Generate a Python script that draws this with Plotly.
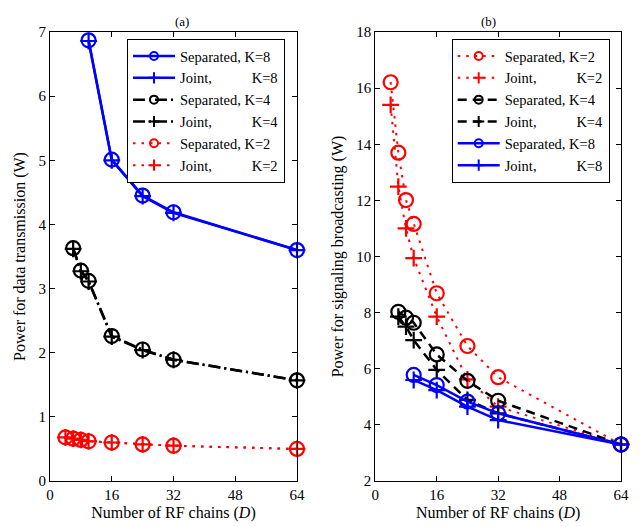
import plotly.graph_objects as go

# ---------------- data ----------------
D_K2 = [4, 6, 8, 10, 16, 24, 32, 64]
D_K4 = [6, 8, 10, 16, 24, 32, 64]
D_K8 = [10, 16, 24, 32, 64]

# (a) Power for data transmission (W)
a_sep_K8 = [6.87, 5.01, 4.45, 4.19, 3.60]
a_joint_K8 = [6.86, 5.00, 4.44, 4.18, 3.60]
a_sep_K4 = [3.63, 3.28, 3.12, 2.26, 2.05, 1.89, 1.57]
a_joint_K4 = [3.62, 3.27, 3.11, 2.25, 2.04, 1.89, 1.57]
a_sep_K2 = [0.68, 0.66, 0.64, 0.62, 0.60, 0.57, 0.55, 0.50]
a_joint_K2 = [0.68, 0.66, 0.64, 0.62, 0.60, 0.57, 0.55, 0.50]

# (b) Power for signaling broadcasting (W)
b_sep_K2 = [16.21, 13.70, 12.01, 11.16, 8.69, 6.81, 5.70, 3.30]
b_joint_K2 = [15.40, 12.49, 11.00, 9.94, 7.86, 5.62, 4.65, 3.30]
b_sep_K4 = [8.03, 7.82, 7.64, 6.51, 5.57, 4.86, 3.30]
b_joint_K4 = [7.86, 7.50, 7.02, 5.96, 4.89, 4.41, 3.30]
b_sep_K8 = [5.78, 5.42, 4.83, 4.41, 3.30]
b_joint_K8 = [5.60, 5.24, 4.65, 4.17, 3.30]

x_ticks = [0, 16, 32, 48, 64]
a_yticks = [0, 1, 2, 3, 4, 5, 6, 7]
b_yticks = [2, 4, 6, 8, 10, 12, 14, 16, 18]

FONT = "Liberation Serif"
NB = "\u00a0"
SEP = "Separated, "
JNT = "Joint," + NB * 11

BLUE = "#0000ff"
RED = "#ff0000"
BLACK = "#000000"

styles = {
    "K8": dict(color=BLUE, width=2.5, dash="solid"),
    "K4a": dict(color=BLACK, width=2.5, dash="12px,4px,2px,4px"),
    "K4b": dict(color=BLACK, width=2.5, dash="9px,6px"),
    "K2": dict(color=RED, width=2, dash="2.5px,6px"),
}

fig = go.Figure()


def add(x, y, name, style, sep, xa, ya, leg):
    col = styles[style]["color"]
    sym = "circle-open" if sep else "cross-thin-open"
    # real data trace
    fig.add_trace(go.Scatter(
        x=x, y=y, name=name, mode="lines+markers",
        line=styles[style],
        marker=dict(symbol=sym, size=14 if sep else 12, color=col,
                    line=dict(width=2.2, color=col)),
        xaxis=xa, yaxis=ya, showlegend=False, cliponaxis=False,
    ))
    # legend entry with small markers
    fig.add_trace(go.Scatter(
        x=[None], y=[None], name=name, mode="lines+markers",
        line=styles[style],
        marker=dict(symbol=sym, size=8, color=col,
                    line=dict(width=2, color=col)),
        xaxis=xa, yaxis=ya, legend=leg, showlegend=True,
    ))


# (a)
add(D_K8, a_sep_K8, SEP + "K=8", "K8", True, "x", "y", "legend")
add(D_K8, a_joint_K8, JNT + "K=8", "K8", False, "x", "y", "legend")
add(D_K4, a_sep_K4, SEP + "K=4", "K4a", True, "x", "y", "legend")
add(D_K4, a_joint_K4, JNT + "K=4", "K4a", False, "x", "y", "legend")
add(D_K2, a_sep_K2, SEP + "K=2", "K2", True, "x", "y", "legend")
add(D_K2, a_joint_K2, JNT + "K=2", "K2", False, "x", "y", "legend")

# (b)
add(D_K2, b_sep_K2, SEP + "K=2", "K2", True, "x2", "y2", "legend2")
add(D_K2, b_joint_K2, JNT + "K=2", "K2", False, "x2", "y2", "legend2")
add(D_K4, b_sep_K4, SEP + "K=4", "K4b", True, "x2", "y2", "legend2")
add(D_K4, b_joint_K4, JNT + "K=4", "K4b", False, "x2", "y2", "legend2")
add(D_K8, b_sep_K8, SEP + "K=8", "K8", True, "x2", "y2", "legend2")
add(D_K8, b_joint_K8, JNT + "K=8", "K8", False, "x2", "y2", "legend2")

W, H = 641, 527
ytop = 1 - 32 / H
ybot = 1 - 481 / H

axis_common = dict(
    showline=True, linecolor="black", linewidth=1, mirror="ticks",
    ticks="inside", ticklen=5, tickcolor="black", tickwidth=1,
    showgrid=False, zeroline=False,
    tickfont=dict(family=FONT, size=15, color="black"),
    automargin=False,
)

xtitle = dict(text="Number of RF chains (<i>D</i>)",
              font=dict(family=FONT, size=16, color="black"), standoff=4)

legend_common = dict(
    xanchor="left", yanchor="top",
    bgcolor="white", bordercolor="black", borderwidth=1,
    font=dict(family=FONT, size=14.5, color="black"),
    tracegroupgap=0, itemwidth=42,
)

fig.update_layout(
    width=W, height=H,
    margin=dict(l=0, r=0, t=0, b=0),
    paper_bgcolor="white", plot_bgcolor="white",
    font=dict(family=FONT, color="black"),
    showlegend=True,
    xaxis=dict(domain=[50 / W, 297 / W], range=[0, 64], tickvals=x_ticks,
               anchor="y", title=xtitle, **axis_common),
    yaxis=dict(domain=[ybot, ytop], range=[0, 7], tickvals=a_yticks,
               anchor="x",
               title=dict(text="Power for data transmission (W)",
                          font=dict(family=FONT, size=16, color="black"),
                          standoff=8),
               **axis_common),
    xaxis2=dict(domain=[375.3 / W, 621 / W], range=[0, 64], tickvals=x_ticks,
                anchor="y2", title=xtitle, **axis_common),
    yaxis2=dict(domain=[ybot, ytop], range=[2, 18], tickvals=b_yticks,
                anchor="x2",
                title=dict(text="Power for signaling broadcasting (W)",
                           font=dict(family=FONT, size=16, color="black"),
                           standoff=8),
                **axis_common),
    legend=dict(x=127 / W, y=1 - 39 / H, **legend_common),
    legend2=dict(x=451.7 / W, y=1 - 39 / H, **legend_common),
    annotations=[
        dict(text="(a)", x=173 / W, y=1 - 12 / H, xref="paper", yref="paper",
             showarrow=False, font=dict(family=FONT, size=13, color="black")),
        dict(text="(b)", x=498 / W, y=1 - 12 / H, xref="paper", yref="paper",
             showarrow=False, font=dict(family=FONT, size=13, color="black")),
    ],
)

fig.write_html("out.html", config={"displayModeBar": False},
               post_script="document.body.style.margin='0';")
